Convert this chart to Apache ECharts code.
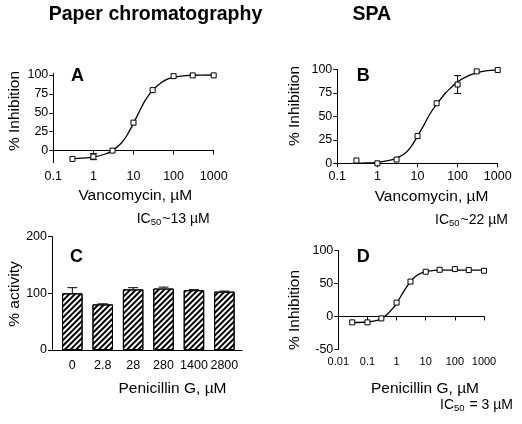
<!DOCTYPE html>
<html>
<head>
<meta charset="utf-8">
<script src="https://cdn.jsdelivr.net/npm/echarts@6/dist/echarts.min.js"></script>
<style>
html,body{margin:0;padding:0;background:#fff;}
#chart{width:522px;height:424px;}
</style>
</head>
<body>
<div id="chart"></div>
<script>
// ---- Panel A: paper chromatography, vancomycin ----
const xA = [0.3, 1, 3, 10, 30, 100, 300, 1000];
const yA = [-11, -8, 0, 37, 80, 98.5, 99.5, 99.5];
const errA = [0, 4, 0, 0, 0, 0, 0, 0];
const curveAx = [0.3, 0.5, 1, 2, 3, 5, 7, 10, 15, 20, 30, 50, 70, 100, 200, 300, 1000];
const curveAy = [-10.5, -10, -8.5, -4.5, 0, 10, 21, 36, 55, 67, 80, 90, 94.5, 97, 99.3, 99.7, 100];

// ---- Panel B: SPA, vancomycin ----
const xB = [0.3, 1, 3, 10, 30, 100, 300, 1000];
const yB = [3, 0, 4, 29, 64, 84, 98, 99.5];
const errB = [0, 0, 0, 0, 0, 9.5, 0, 0];
const curveBx = [0.3, 0.5, 1, 2, 3, 5, 7, 10, 15, 20, 30, 50, 70, 100, 200, 300, 500, 1000];
const curveBy = [0, 0.3, 1, 3, 5.5, 11, 18, 29, 42, 52, 63, 75, 81, 87, 94, 96.5, 98.5, 99.5];

// ---- Panel C: paper chromatography, penicillin G ----
const catC = ['0', '2.8', '28', '280', '1400', '2800'];
const valC = [100, 80.5, 107, 108.5, 105.5, 103];
const errC = [10, 1, 3, 2.5, 1, 1];

// ---- Panel D: SPA, penicillin G ----
const xD = [0.03, 0.1, 0.3, 1, 3, 10, 30, 100, 300, 1000];
const yD = [-9, -9, -3, 21, 53, 68, 71, 72, 70.5, 69.5];
const curveDx = [0.03, 0.1, 0.2, 0.3, 0.5, 0.7, 1, 1.5, 2, 3, 5, 7, 10, 20, 30, 100, 1000];
const curveDy = [-9.5, -8.5, -6.5, -3.5, 4, 11, 20, 33, 42, 53, 62.5, 66, 68.5, 70, 70.5, 70.5, 70.5];

// ---- tick labels ----
const ticksAB_y = [0, 25, 50, 75, 100];
const ticksC_y = [0, 100, 200];
const ticksD_y = [-50, 0, 50, 100];

const FONT = '"Liberation Sans", Arial, Helvetica, sans-serif';
const zip = (a, b) => a.map((v, i) => [v, b[i]]);
const zip3 = (a, b, c) => a.map((v, i) => [v, b[i], c[i]]);
const fmtNum = v => String(Number(Number(v).toPrecision(6)));

const axisLineStyle = {show: true, lineStyle: {color: '#000', width: 1}};
const tickStyle = {show: true, length: 4, inside: false, lineStyle: {color: '#000', width: 1}};

function logX(grid, min, max, fs) {
  return {
    type: 'log', logBase: 10, gridIndex: grid, min: min, max: max,
    axisLine: axisLineStyle, axisTick: tickStyle,
    axisLabel: {color: '#000', fontSize: fs, fontFamily: FONT, margin: 7, formatter: fmtNum, showMinLabel: true, showMaxLabel: true},
    splitLine: {show: false}, minorTick: {show: false}
  };
}
function valY(grid, min, max, ticks, fs) {
  return {
    type: 'value', gridIndex: grid, min: min, max: max,
    axisLine: axisLineStyle,
    axisTick: Object.assign({}, tickStyle, {customValues: ticks}),
    axisLabel: {color: '#000', fontSize: fs, fontFamily: FONT, margin: 5, customValues: ticks},
    splitLine: {show: false}
  };
}

function errRender(capHalf) {
  return function (params, api) {
    const x = api.value(0), y = api.value(1), e = api.value(2);
    if (!e) return null;
    const p1 = api.coord([x, y + e]);
    const p2 = api.coord([x, y - e]);
    const st = {stroke: '#000', lineWidth: 1};
    return {type: 'group', children: [
      {type: 'line', shape: {x1: p1[0], y1: p1[1], x2: p2[0], y2: p2[1]}, style: st},
      {type: 'line', shape: {x1: p1[0] - capHalf, y1: p1[1], x2: p1[0] + capHalf, y2: p1[1]}, style: st},
      {type: 'line', shape: {x1: p2[0] - capHalf, y1: p2[1], x2: p2[0] + capHalf, y2: p2[1]}, style: st}
    ]};
  };
}
function errUpRender(capHalf) {
  return function (params, api) {
    const x = api.value(0), y = api.value(1), e = api.value(2);
    if (!e) return null;
    const p1 = api.coord([x, y + e]);
    const p2 = api.coord([x, y]);
    const st = {stroke: '#000', lineWidth: 1};
    return {type: 'group', children: [
      {type: 'line', shape: {x1: p1[0], y1: p1[1], x2: p2[0], y2: p2[1]}, style: st},
      {type: 'line', shape: {x1: p1[0] - capHalf, y1: p1[1], x2: p1[0] + capHalf, y2: p1[1]}, style: st}
    ]};
  };
}

function curve(idx, xs, ys) {
  return {type: 'line', xAxisIndex: idx, yAxisIndex: idx, data: zip(xs, ys), smooth: 0.3,
    showSymbol: false, symbol: 'none', lineStyle: {color: '#000', width: 1.3}, z: 2, silent: true};
}
function markers(idx, xs, ys) {
  return {type: 'scatter', xAxisIndex: idx, yAxisIndex: idx, data: zip(xs, ys), symbol: 'rect', symbolSize: 5,
    itemStyle: {color: '#fff', borderColor: '#000', borderWidth: 1, opacity: 1}, z: 4, silent: true};
}
function errs(idx, xs, ys, es, cap) {
  return {type: 'custom', xAxisIndex: idx, yAxisIndex: idx, data: zip3(xs, ys, es),
    encode: {x: 0, y: 1}, renderItem: errRender(cap), z: 3, silent: true};
}

function txt(x, y, text, size, bold, rot) {
  return {type: 'text', x: x, y: y, rotation: rot || 0, silent: true,
    style: {text: text, fill: '#000', fontSize: size, fontFamily: FONT, fontWeight: bold ? 'bold' : 'normal',
      align: 'center', verticalAlign: 'middle'}};
}
function ic50(x, y, rest) {
  return {type: 'text', x: x, y: y, silent: true,
    style: {text: '{a|IC}{s|50}{a|' + rest + '}', fill: '#000', align: 'left', verticalAlign: 'middle',
      rich: {a: {fontSize: 14, fontFamily: FONT, fill: '#000'},
             s: {fontSize: 9.5, fontFamily: FONT, fill: '#000', padding: [7, 1, 0, 0]}}}};
}

const cX = catC.map((c, i) => i + 1);

const option = {
  animation: false,
  backgroundColor: '#fff',
  grid: [
    {left: 53.3, top: 73.5, width: 160.4, height: 89.2},
    {left: 337.3, top: 69.5, width: 160.4, height: 93.8},
    {left: 52, top: 236.7, width: 190, height: 113.3},
    {left: 338.3, top: 250.7, width: 145.7, height: 98.6}
  ],
  xAxis: [
    logX(0, 0.1, 1000, 12.5),
    logX(1, 0.1, 1000, 12.5),
    {type: 'value', gridIndex: 2, min: 0.332, max: 6.58,
      axisLine: axisLineStyle, axisTick: {show: false},
      axisLabel: {color: '#000', fontSize: 12.5, fontFamily: FONT, margin: 9, customValues: cX,
        formatter: v => catC[Math.round(v) - 1]},
      splitLine: {show: false}},
    logX(3, 0.01, 1000, 11)
  ],
  yAxis: [
    valY(0, -16, 102, ticksAB_y, 12.5),
    valY(1, 0, 100, ticksAB_y, 12.5),
    valY(2, 0, 200, ticksC_y, 12.5),
    valY(3, -50, 100, ticksD_y, 12.5)
  ],
  series: [
    curve(0, curveAx, curveAy), errs(0, xA, yA, errA, 3.5), markers(0, xA, yA),
    curve(1, curveBx, curveBy), errs(1, xB, yB, errB, 3.5), markers(1, xB, yB),
    {type: 'bar', xAxisIndex: 2, yAxisIndex: 2, data: zip(cX, valC), barWidth: 20.5, silent: true,
      itemStyle: {color: '#fff', borderColor: '#000', borderWidth: 1,
        decal: {symbol: 'rect', symbolSize: 1, color: '#000', dashArrayX: [1, 0], dashArrayY: [1.1, 1.9], rotation: -Math.PI / 4}}},
    {type: 'custom', xAxisIndex: 2, yAxisIndex: 2, data: zip3(cX, valC, errC), encode: {x: 0, y: 1},
      renderItem: errUpRender(5), z: 3, silent: true},
    curve(3, curveDx, curveDy), markers(3, xD, yD)
  ],
  graphic: [
    txt(155.5, 15, 'Paper chromatography', 19.5, true),
    txt(371.7, 15, 'SPA', 19.5, true),
    txt(77.5, 76.5, 'A', 18, true),
    txt(363.3, 76.5, 'B', 18, true),
    txt(76.5, 257.5, 'C', 18, true),
    txt(363.3, 257.5, 'D', 18, true),
    txt(15, 111, '% Inhibition', 15.5, false, Math.PI / 2),
    txt(295, 106, '% Inhibition', 15.5, false, Math.PI / 2),
    txt(15, 294, '% activity', 15.5, false, Math.PI / 2),
    txt(295, 310, '% Inhibition', 15.5, false, Math.PI / 2),
    txt(135.3, 196, 'Vancomycin, µM', 15.5, false),
    txt(431.5, 197, 'Vancomycin, µM', 15.5, false),
    txt(172.5, 388.5, 'Penicillin G, µM', 15.5, false),
    txt(425, 388.5, 'Penicillin G, µM', 15.5, false),
    ic50(136.7, 219, '~13 µM'),
    ic50(435, 220, '~22 µM'),
    ic50(440, 405, ' = 3 µM')
  ]
};

const chart = echarts.init(document.getElementById('chart'), null, {renderer: 'canvas'});
chart.setOption(option);
</script>
</body>
</html>
